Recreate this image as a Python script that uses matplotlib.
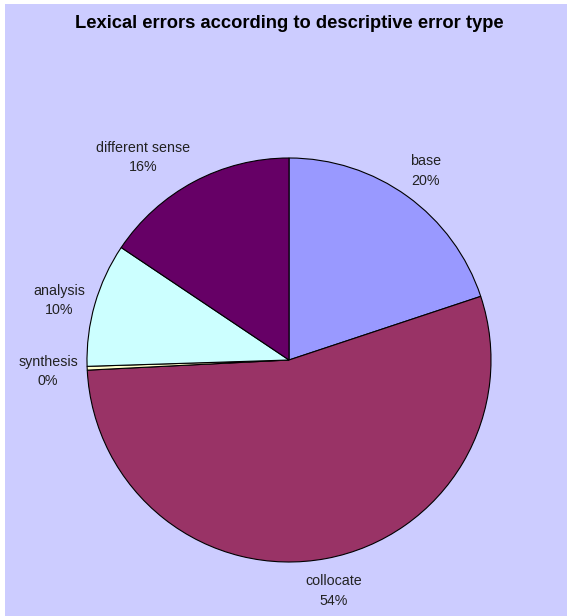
import numpy as np
import matplotlib
matplotlib.use("Agg")
import matplotlib.pyplot as plt
from matplotlib.patches import Rectangle

# Veri (yüzde değerleri)
categories = ["base", "collocate", "synthesis", "analysis", "different sense"]
values = [19.9, 54.3, 0.3, 9.9, 15.6]
colors = ["#9999FF", "#993366", "#FFFFCC", "#CCFFFF", "#660066"]
title = "Lexical errors according to descriptive error type"

plt.rcParams["font.family"] = ["Liberation Sans", "DejaVu Sans"]

W, H = 567, 616
fig = plt.figure(figsize=(W / 100, H / 100), dpi=100)
fig.patch.set_facecolor("#CCCCFF")

# ince beyaz kenarlar
fig.patches.append(Rectangle((0, 1 - 4 / H), 1, 4 / H, transform=fig.transFigure,
                             facecolor="white", edgecolor="none", zorder=0))
fig.patches.append(Rectangle((0, 0), 5 / W, 1, transform=fig.transFigure,
                             facecolor="white", edgecolor="none", zorder=0))

# pasta merkezi ve yarıçapı (piksel)
cx, cy, r = 289, 360, 202
ax = fig.add_axes([(cx - r) / W, (H - cy - r) / H, 2 * r / W, 2 * r / H])
ax.set_facecolor("none")

wedges, _ = ax.pie(values, colors=colors, startangle=90, counterclock=False,
                   radius=1.0,
                   wedgeprops=dict(edgecolor="black", linewidth=0.8))
ax.set_xlim(-1, 1)
ax.set_ylim(-1, 1)
ax.set_aspect("equal")

# etiket kaydırmaları (piksel)
nudge = {"different sense": (-22, -3), "base": (1, 0), "collocate": (0, -2),
         "analysis": (3, -5), "synthesis": (5, -2)}

total = sum(values)
renderer = fig.canvas.get_renderer()
for w, name, v in zip(wedges, categories, values):
    mid = np.deg2rad((w.theta1 + w.theta2) / 2)
    ax_x, ax_y = 1.07 * np.cos(mid), 1.07 * np.sin(mid)
    t = ax.annotate(f"{name}\n{round(v / total * 100)}%", xy=(ax_x, ax_y),
                    xytext=(0, 0), textcoords="offset pixels",
                    ha="center", va="center", fontsize=10.3, color="#222222",
                    linespacing=1.5, annotation_clip=False)
    bb = t.get_window_extent(renderer)
    nx, ny = nudge.get(name, (0, 0))
    t.set_position((bb.width / 2 * np.cos(mid) + nx,
                    bb.height / 2 * np.sin(mid) + ny))

fig.text(289 / W, 1 - 24 / H, title, ha="center", va="center",
         fontsize=13.2, fontweight="bold")

fig.savefig("out.png", dpi=100, facecolor=fig.get_facecolor())
